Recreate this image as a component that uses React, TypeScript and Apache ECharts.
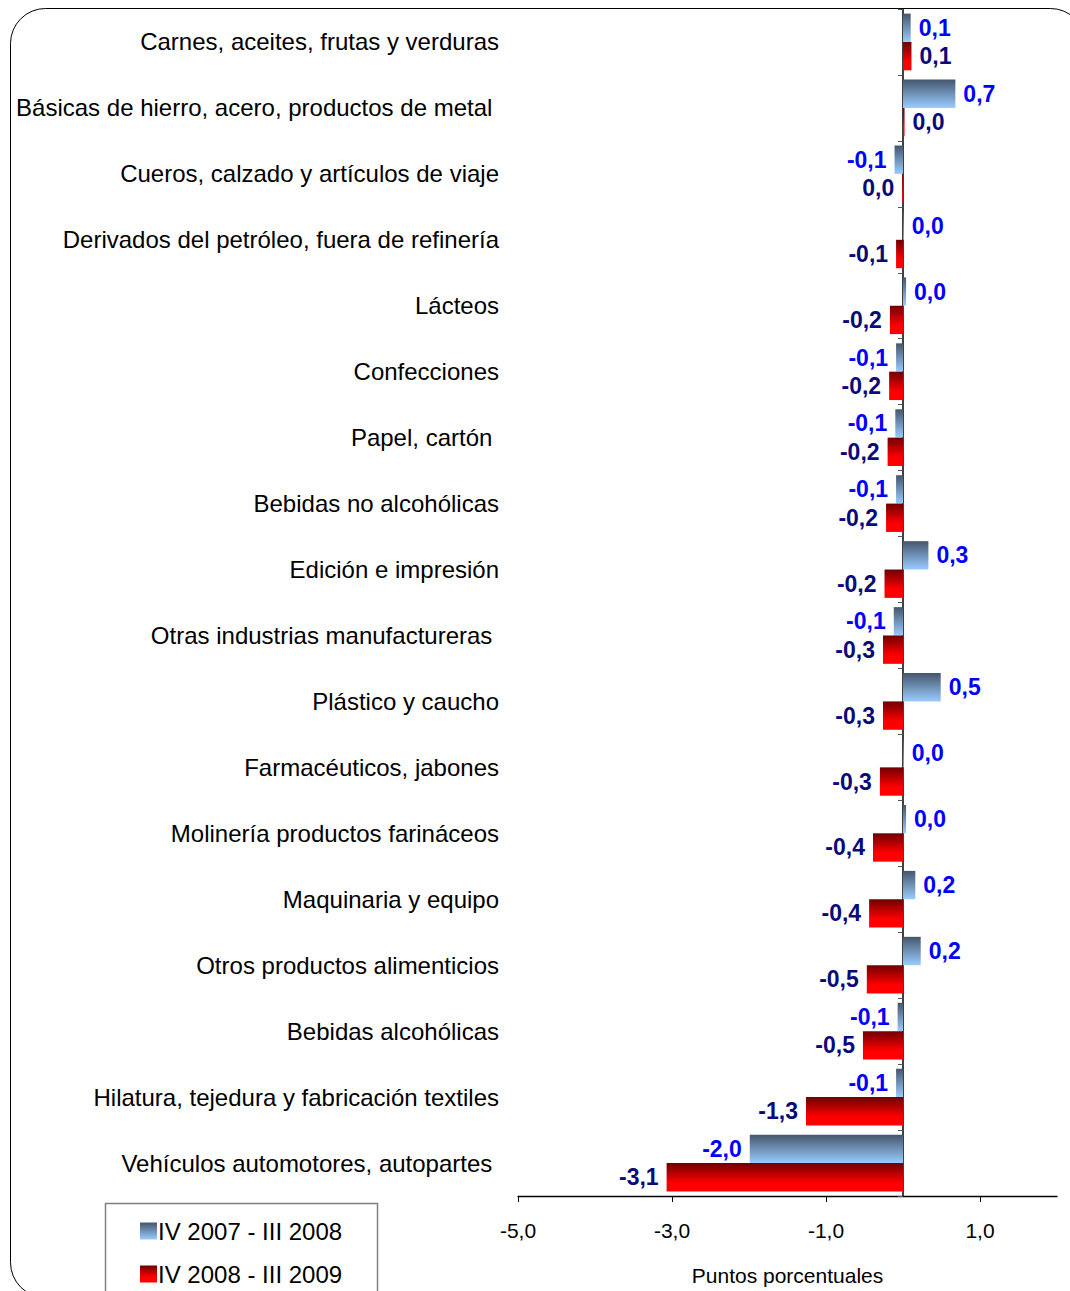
import React, { useEffect, useRef } from "react";
import * as echarts from "echarts";

const categories = [
  "Carnes, aceites, frutas y verduras",
  "Básicas de hierro, acero, productos de metal ",
  "Cueros, calzado y artículos de viaje",
  "Derivados del petróleo, fuera de refinería",
  "Lácteos",
  "Confecciones",
  "Papel, cartón ",
  "Bebidas no alcohólicas",
  "Edición e impresión",
  "Otras industrias manufactureras ",
  "Plástico y caucho",
  "Farmacéuticos, jabones",
  "Molinería productos farináceos",
  "Maquinaria y equipo",
  "Otros productos alimenticios",
  "Bebidas alcohólicas",
  "Hilatura, tejedura y fabricación textiles",
  "Vehículos automotores, autopartes ",
];

const seriesNames = ["IV 2007 - III 2008", "IV 2008 - III 2009"];

const values2008 = [0.1, 0.68, -0.11, 0.01, 0.04, -0.09, -0.1, -0.09, 0.33, -0.12, 0.49, 0.01, 0.04, 0.16, 0.23, -0.07, -0.09, -1.99];
const values2009 = [0.11, 0.02, -0.01, -0.09, -0.17, -0.18, -0.2, -0.22, -0.24, -0.26, -0.26, -0.3, -0.39, -0.44, -0.47, -0.52, -1.26, -3.07];

const xTicks = [-5, -3, -1, 1];

const FONT = "'Liberation Sans', Arial, sans-serif";

function fmt(v: number): string {
  const r = Math.round(v * 10) / 10;
  const s = Math.abs(r) < 0.05 ? "0.0" : r.toFixed(1);
  return s.replace(".", ",");
}

function makeData(vals: number[], color: string) {
  return vals.map((v) => ({
    value: v,
    label: {
      show: true,
      position: v >= 0 ? "right" : "left",
      distance: 8,
      formatter: () => fmt(v),
      color,
      fontFamily: FONT,
      fontWeight: "bold",
      fontSize: 23,
    },
  }));
}

export default function App() {
  const ref = useRef<HTMLDivElement>(null);
  useEffect(() => {
    document.body.style.margin = "0";
    const chart = echarts.init(ref.current!, undefined, { renderer: "svg" });
    const blueGrad = new echarts.graphic.LinearGradient(0, 0, 0, 1, [
      { offset: 0, color: "#45566d" },
      { offset: 1, color: "#99ccff" },
    ]);
    const redGrad = new echarts.graphic.LinearGradient(0, 0, 0, 1, [
      { offset: 0, color: "#6e0000" },
      { offset: 0.7, color: "#ff0000" },
      { offset: 1, color: "#ff0000" },
    ]);
    chart.setOption({
      animation: false,
      backgroundColor: "#ffffff",
      graphic: [
        {
          type: "rect",
          shape: { x: 10.5, y: 8.5, width: 1075, height: 1289, r: 35 },
          style: { fill: "none", stroke: "#000000", lineWidth: 1 },
          silent: true,
          z: -10,
        },
        {
          type: "rect",
          shape: { x: 105.5, y: 1203.5, width: 272, height: 110 },
          style: { fill: "none", stroke: "#7f7f7f", lineWidth: 1.5 },
          silent: true,
          z: -5,
        },
      ],
      legend: {
        orient: "vertical",
        left: 140,
        top: 1219,
        padding: 0,
        itemWidth: 17,
        itemHeight: 17,
        itemGap: 19,
        icon: "rect",
        textStyle: { fontFamily: FONT, fontSize: 24, color: "#000000", padding: [0, 0, 0, -4] },
        data: seriesNames,
      },
      grid: { left: 518, right: 13, top: 9, bottom: 95, outerBoundsMode: "none", containLabel: false },
      xAxis: {
        type: "value",
        min: -5,
        max: 2,
        interval: 1,
        splitLine: { show: false },
        axisLine: { show: true, onZero: false, lineStyle: { color: "#000000", width: 1.3 } },
        axisTick: { show: true, customValues: xTicks, length: 6, lineStyle: { color: "#000000" } },
        axisLabel: {
          customValues: xTicks,
          formatter: (v: number) => fmt(v),
          fontFamily: FONT,
          fontSize: 21,
          color: "#000000",
          margin: 24,
        },
        name: "Puntos porcentuales",
        nameLocation: "middle",
        nameGap: 69,
        nameTextStyle: { fontFamily: FONT, fontSize: 21, color: "#000000" },
      },
      yAxis: {
        type: "category",
        inverse: true,
        data: categories,
        axisLine: { show: true, onZero: true, lineStyle: { color: "#000000", width: 1.5 } },
        axisTick: { show: true, length: 5, lineStyle: { color: "#555555" } },
        axisLabel: {
          margin: 19,
          fontFamily: FONT,
          fontSize: 24,
          color: "#000000",
        },
      },
      series: [
        {
          name: seriesNames[0],
          type: "bar",
          data: makeData(values2008, "#0000ff"),
          itemStyle: { color: blueGrad },
          barGap: "0%",
          barCategoryGap: "14%",
        },
        {
          name: seriesNames[1],
          type: "bar",
          data: makeData(values2009, "#0a0a78"),
          itemStyle: { color: redGrad },
          barGap: "0%",
          barCategoryGap: "14%",
        },
      ],
    });
    return () => chart.dispose();
  }, []);
  return <div ref={ref} style={{ width: 1070, height: 1291 }} />;
}
